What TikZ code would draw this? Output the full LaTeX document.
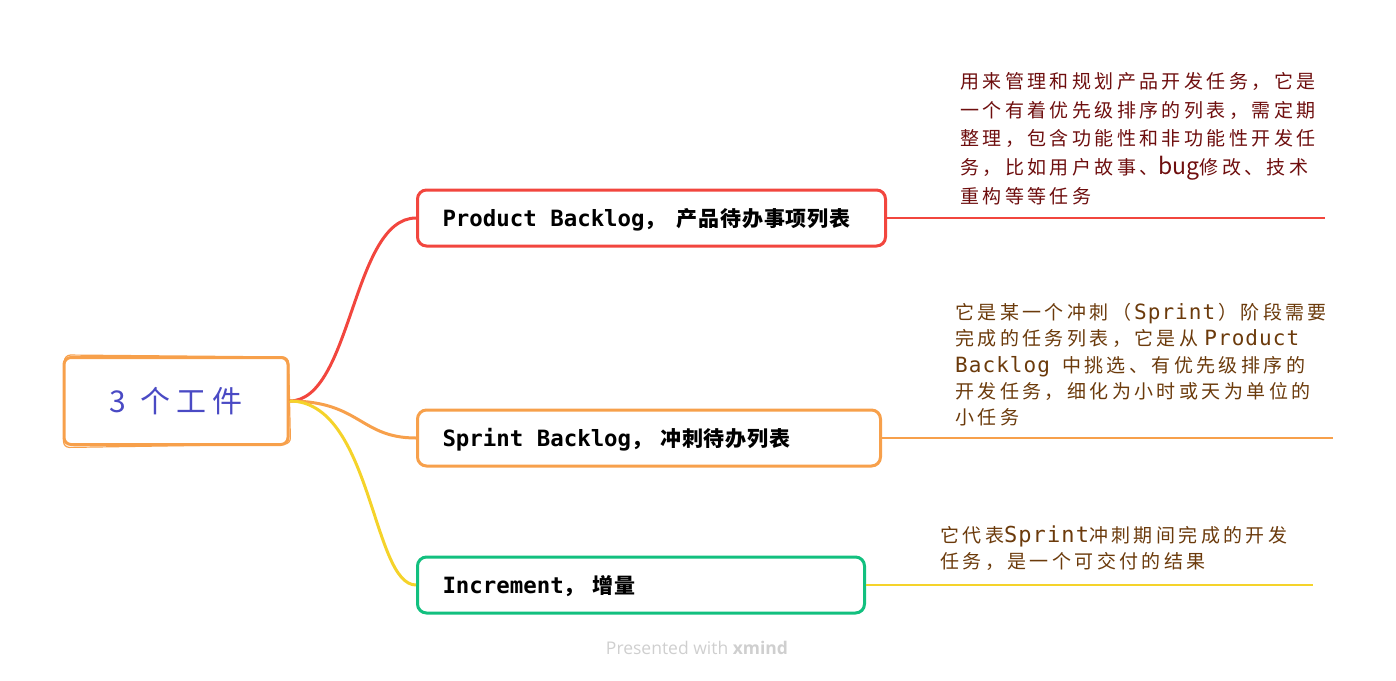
\documentclass[tikz,border=0pt]{standalone}
\usepackage{fontspec}
\usetikzlibrary{calc}
\setmonofont{DejaVu Sans Mono}
\newfontfamily\cjk{Noto Sans CJK SC}
\newfontfamily\boxcjk[LetterSpace=4]{Noto Sans CJK SC Medium}
\newfontfamily\notecjk[LetterSpace=18]{Noto Sans CJK SC}
\newfontfamily\notemono[LetterSpace=5]{DejaVu Sans Mono}
\newfontfamily\rootfont[LetterSpace=20]{Noto Sans CJK SC}
\newfontfamily\brand{Open Sans}
\newcommand\monosp{\hspace*{13.4pt}}
\definecolor{pbred}{HTML}{F2463E}
\definecolor{sborange}{HTML}{F7A04B}
\definecolor{incyellow}{HTML}{F5D32A}
\definecolor{incgreen}{HTML}{12C07F}
\definecolor{rootblue}{HTML}{4A4AC4}
\definecolor{notered}{HTML}{6E0E0E}
\definecolor{notebrown}{HTML}{6B3A0B}
\definecolor{brandgray}{HTML}{CFCFCF}

\begin{document}
\begin{tikzpicture}[x=1pt,y=-1pt,
    topic/.style={draw=#1,line width=3pt,rounded corners=9pt,fill=white,
      minimum height=56pt,inner xsep=25pt,anchor=west,align=left,
      text height=16pt,text depth=0pt,font=\fontsize{22.4}{24}\selectfont\ttfamily\bfseries},
    branch/.style={draw=#1,line width=3pt},
    underline/.style={draw=#1,line width=2pt},
    note/.style={text=#1,anchor=north west,inner sep=0pt,align=left},
  ]
  \useasboundingbox (0,0) rectangle (1396,680);

  % central topic
  \node[draw=sborange,line width=3pt,rounded corners=7pt,minimum width=224pt,minimum height=87pt,
    text=rootblue,font=\fontsize{30}{32}\selectfont\rootfont] (root) at (176,401) {3\hspace{14pt}个工件};
  \draw[sborange,line width=1.2pt,rounded corners=6pt]
    ($(root.north west)+(2,-1)$) -- ($(root.north east)+(-1,1)$) -- ($(root.south east)+(1,-2)$)
    -- ($(root.south west)+(1,1.5)$) -- cycle;

  % main topics
  \node[topic=pbred,text width=418pt] (pb) at (416,218)
    {Product\monosp Backlog{\boxcjk\fontsize{21}{24}\selectfont，\hspace{11pt}产品待办事项列表}};
  \node[topic=sborange,text width=413pt] (sb) at (416,438)
    {Sprint\monosp Backlog{\boxcjk\fontsize{21}{24}\selectfont，\hspace{8pt}冲刺待办列表}};
  \node[topic=incgreen,text width=397pt] (inc) at (416,585)
    {Increment{\boxcjk\fontsize{21}{24}\selectfont，\hspace{8pt}增量}};

  \draw[branch=pbred] (root.east) .. controls (352,401) and (352,218) .. (pb.west);
  \draw[branch=sborange] (root.east) .. controls (360,401) and (360,438) .. (sb.west);
  \draw[branch=incyellow] (root.east) .. controls (372,401) and (372,585) .. (inc.west);

  % notes
  \coordinate (pbend) at (1325,218);
  \coordinate (sbend) at (1333,438);
  \coordinate (incend) at (1313,585);
  \draw[underline=pbred] (pb.east) -- (pbend);
  \draw[underline=sborange] (sb.east) -- (sbend);
  \draw[underline=incyellow] (inc.east) -- (incend);

  \node[note=notered,font=\fontsize{19}{28.75}\selectfont\notecjk] (npb) at (960,72)
    {用来管理和规划产品开发任务，它是\\
     一个有着优先级排序的列表，需定期\\
     整理，包含功能性和非功能性开发任\\
     务，比如用户故事、{\fontsize{23}{28}\selectfont\cjk bug}修改、技术\\
     重构等等任务};
  \node[note=notebrown,font=\fontsize{19}{26.3}\selectfont\notecjk] (nsb) at (955,303)
    {它是某一个冲刺（\hspace{3pt}{\fontsize{21}{26.3}\selectfont\notemono Sprint}\hspace{3pt}）阶段需要\\
     完成的任务列表，它是从\hspace{6pt}{\fontsize{21}{26.3}\selectfont\notemono Product}\\
     {\fontsize{21}{26.3}\selectfont\notemono Backlog}\hspace{12pt}中挑选、有优先级排序的\\
     开发任务，细化为小时或天为单位的\\
     小任务};
  \node[note=notebrown,font=\fontsize{19}{26}\selectfont\notecjk] (ninc) at (940,526)
    {它代表{\fontsize{22}{26}\selectfont\notemono Sprint}冲刺期间完成的开发\\
     任务，是一个可交付的结果};

  \node[text=brandgray,font=\fontsize{17.5}{19}\selectfont\brand] (credit) at (697,648)
    {Presented with \textbf{xmind}};
\end{tikzpicture}
\end{document}
